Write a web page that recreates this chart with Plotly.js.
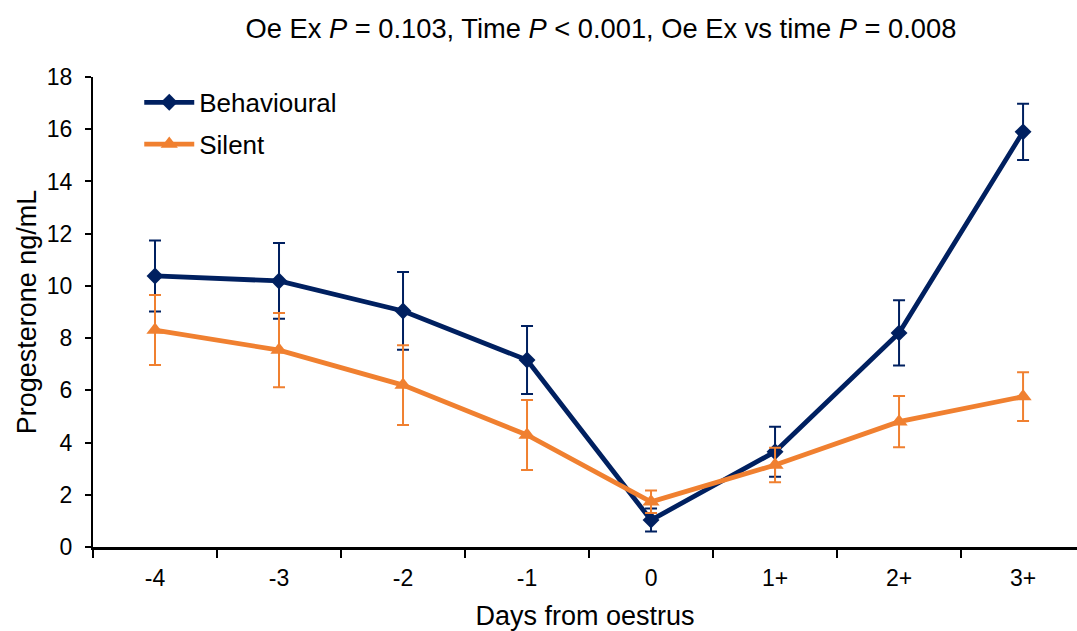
<!DOCTYPE html>
<html>
<head>
<meta charset="utf-8">
<script src="https://cdn.plot.ly/plotly-3.0.1.min.js"></script>
<style>html,body{margin:0;padding:0;background:#fff;}#chart{width:1077px;height:631px;}</style>
</head>
<body>
<div id="chart"></div>
<script>
const categories = ["-4", "-3", "-2", "-1", "0", "1+", "2+", "3+"];
const behaviouralMean = [10.38, 10.19, 9.04, 7.16, 1.03, 3.65, 8.2, 15.9];
const behaviouralSE = [1.36, 1.45, 1.49, 1.30, 0.44, 0.96, 1.25, 1.08];
const silentMean = [8.31, 7.54, 6.20, 4.29, 1.73, 3.14, 4.80, 5.76];
const silentSE = [1.34, 1.42, 1.53, 1.34, 0.43, 0.66, 0.98, 0.93];
const yTicks = [0, 2, 4, 6, 8, 10, 12, 14, 16, 18];

const navy = "#002060";
const orange = "#F08030";

const traces = [
  {
    x: categories, y: behaviouralMean, name: "Behavioural", type: "scatter", mode: "lines+markers",
    line: {color: navy, width: 4.8},
    marker: {symbol: "diamond", size: 13, color: navy},
    error_y: {type: "data", array: behaviouralSE, visible: true, color: navy, thickness: 2, width: 6},
    legendgroup: "a"
  },
  {
    x: categories, y: silentMean, name: "Silent", type: "scatter", mode: "lines+markers",
    line: {color: orange, width: 4.8},
    marker: {symbol: "triangle-up", size: 15, color: orange},
    error_y: {type: "data", array: silentSE, visible: true, color: orange, thickness: 2, width: 6},
    legendgroup: "b"
  }
];

const layout = {
  width: 1077, height: 631,
  margin: {l: 93, r: 0, t: 77, b: 84},
  paper_bgcolor: "#fff", plot_bgcolor: "#fff",
  font: {family: "Liberation Sans, Arial, sans-serif", color: "#000", size: 23},
  title: {
    text: "Oe Ex <i>P</i> = 0.103, Time <i>P</i> < 0.001, Oe Ex vs time <i>P</i> = 0.008",
    font: {size: 27.3, color: "#000"},
    x: 0.558, xref: "container", xanchor: "center", y: 0.955, yanchor: "middle"
  },
  showlegend: true,
  legend: {
    x: 0.047, y: 0.996, xanchor: "left", yanchor: "top",
    font: {size: 26, color: "#000"}, bgcolor: "rgba(0,0,0,0)",
    tracegroupgap: 5, traceorder: "grouped", itemwidth: 50
  },
  xaxis: {
    type: "category", categoryorder: "array", categoryarray: categories,
    range: [-0.5, 7.435],
    showgrid: false, zeroline: false,
    showline: true, linecolor: "#000", linewidth: 3,
    ticks: "outside", ticklen: 8, tickwidth: 2, tickcolor: "#000",
    tickson: "boundaries", ticklabelstandoff: 8,
    tickfont: {size: 23},
    title: {text: "Days from oestrus", font: {size: 27}, standoff: 17}
  },
  yaxis: {
    range: [0, 18], tickvals: yTicks, ticktext: yTicks.map(String),
    showgrid: false, zeroline: false,
    showline: true, linecolor: "#000", linewidth: 2,
    ticks: "outside", ticklen: 6, tickwidth: 2, tickcolor: "#000",
    ticklabelstandoff: 8,
    tickfont: {size: 23},
    title: {text: "Progesterone ng/mL", font: {size: 27}, standoff: 2}
  }
};

Plotly.newPlot("chart", traces, layout, {displayModeBar: false, staticPlot: true});
</script>
</body>
</html>
